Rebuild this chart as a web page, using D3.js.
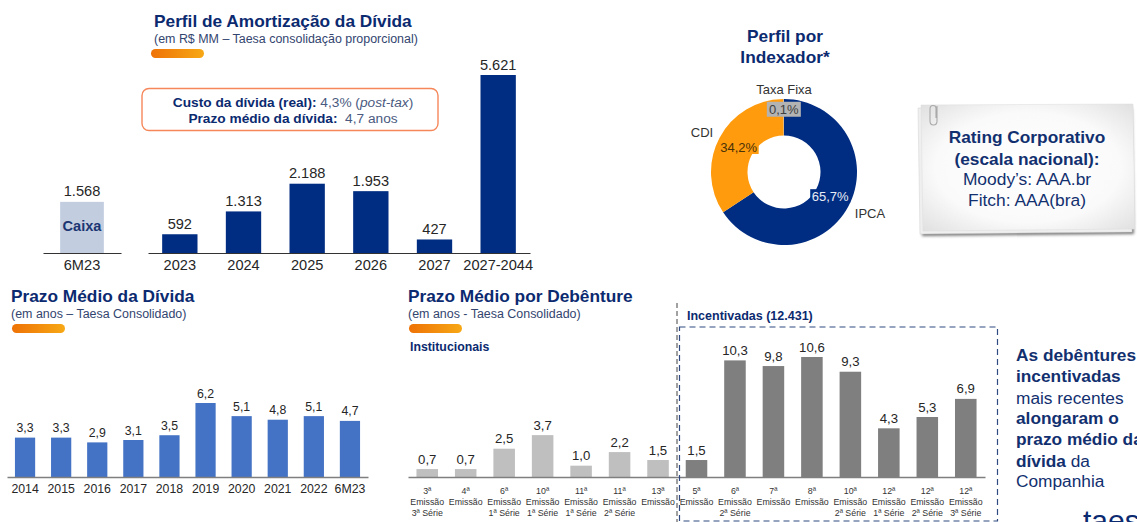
<!DOCTYPE html>
<html><head><meta charset="utf-8">
<script src="https://cdn.jsdelivr.net/npm/d3@7"></script>
<style>
html,body{margin:0;padding:0;background:#fff;overflow:hidden}
svg{display:block}
text{font-family:"Liberation Sans",Arial,sans-serif}
</style></head><body>
<div id="chart"></div>
<script>
const amortCats = ["2023","2024","2025","2026","2027","2027-2044"];
const amortVals = [592,1313,2188,1953,427,5621];
const amortLabels = ["592","1.313","2.188","1.953","427","5.621"];
const cashCats = ["6M23"];
const cashVals = [1568];
const cashLabels = ["1.568"];
const prazoCats = ["2014","2015","2016","2017","2018","2019","2020","2021","2022","6M23"];
const prazoVals = [3.3,3.3,2.9,3.1,3.5,6.2,5.1,4.8,5.1,4.7];
const debIds = ["3a-3s","4a","6a-1s","10a-1s","11a-1s","11a-2s","13a","5a","6a-2s","7a","8a","10a-2s","12a-1s","12a-2s","12a-3s"];
const debEmissao = ["3ª","4ª","6ª","10ª","11ª","11ª","13ª","5ª","6ª","7ª","8ª","10ª","12ª","12ª","12ª"];
const debSerie = ["3ª Série","","1ª Série","1ª Série","1ª Série","2ª Série","","","2ª Série","","","2ª Série","1ª Série","2ª Série","3ª Série"];
const debVals = [0.7,0.7,2.5,3.7,1.0,2.2,1.5,1.5,10.3,9.8,10.6,9.3,4.3,5.3,6.9];
const debIncentivadaCount = 8;
const indexNames = ["IPCA","CDI","Taxa Fixa"];
const indexVals = [65.7,34.2,0.1];
const indexColors = ["#002D82","#FF9B0D","#B3B3B3"];
const indexBoxes = ["#002D82","#FF9B0D","#B3B3B3"];
const indexText = ["#E8ECF5","#4A3208","#404040"];

const NAVY="#0B2A70", BLUE="#002D82", TXT="#262626";
const fmt = d => d.toFixed(1).replace(".",",");
const svg = d3.select("#chart").append("svg").attr("width",1137).attr("height",522);
const defs = svg.append("defs");
const g1 = defs.append("linearGradient").attr("id","pill");
g1.append("stop").attr("offset","0").attr("stop-color","#EE7206");
g1.append("stop").attr("offset","1").attr("stop-color","#F7A815");
const g2 = defs.append("radialGradient").attr("id","paper").attr("cx","0.5").attr("cy","0.5").attr("r","0.72");
g2.append("stop").attr("offset","0").attr("stop-color","#FFFFFF");
g2.append("stop").attr("offset","0.6").attr("stop-color","#FAFAFA");
g2.append("stop").attr("offset","1").attr("stop-color","#DEDEDE");
const blur = defs.append("filter").attr("id","shadow").attr("x","-5%").attr("y","-5%").attr("width","110%").attr("height","115%");
blur.append("feGaussianBlur").attr("stdDeviation","1.5");

function T(x,y,s,o={}){
  return svg.append("text").attr("x",x).attr("y",y).text(s)
    .attr("font-size",o.size||12).attr("font-weight",o.bold?"bold":"normal")
    .attr("fill",o.fill||NAVY).attr("text-anchor",o.anchor||"start");
}
function header(x,y,title,sub,size,pw){
  T(x,y,title,{bold:true,size:size});
  T(x,y+16,sub,{size:12.45,fill:"#33456F"});
  svg.append("rect").attr("x",x+(x===154?-3:1)).attr("y",y+22).attr("width",pw).attr("height",9).attr("rx",4.5).attr("fill","url(#pill)");
}
function bars(cats,vals,labels,xr,padding,yfn,base,color,size,axisColor,axisW,tickY,tickSize){
  const x = d3.scaleBand().domain(cats).range(xr).paddingInner(padding).paddingOuter(padding/2);
  const g = svg.append("g");
  g.selectAll("rect").data(cats).join("rect")
    .attr("x",d=>x(d)).attr("width",x.bandwidth())
    .attr("y",(d,i)=>yfn(vals[i])).attr("height",(d,i)=>base-yfn(vals[i]))
    .attr("fill",(d,i)=>typeof color==="function"?color(d,i):color);
  g.selectAll("text.v").data(cats).join("text").attr("class","v")
    .attr("x",d=>x(d)+x.bandwidth()/2).attr("y",(d,i)=>yfn(vals[i])-5.5)
    .attr("text-anchor","middle").attr("font-size",size).attr("fill",TXT)
    .text((d,i)=>labels[i]);
  const ax = svg.append("g").attr("transform",`translate(0,${base})`)
    .call(d3.axisBottom(x).tickSize(0).tickPadding(tickY).tickFormat(tickSize?null:()=>""));
  ax.select(".domain").attr("stroke",axisColor).attr("stroke-width",axisW);
  ax.selectAll("text").attr("font-size",tickSize||0).attr("fill",TXT).attr("font-family",'"Liberation Sans",Arial,sans-serif');
  return x;
}

// Perfil de Amortização
header(154,27,"Perfil de Amortização da Dívida","(em R$ MM – Taesa consolidação proporcional)",17.3,53);
const yA = d3.scaleLinear().domain([0,5621]).range([253,75]);
bars(amortCats,amortVals,amortLabels,[148,530],0.445,yA,253,BLUE,14.6,"#333",1,7,14.6);
const xC = bars(cashCats,cashVals,cashLabels,[43,121],0.44,v=>yA(v)-1.5,253,"#C2CDE0",14.6,"#333",1,7,14.6);
T(xC("6M23")+xC.bandwidth()/2,231,"Caixa",{bold:true,size:14.6,anchor:"middle",fill:"#1B3673"});
svg.append("rect").attr("x",142).attr("y",88.5).attr("width",296).attr("height",42).attr("rx",7)
  .attr("fill","#fff").attr("stroke","#F5875A").attr("stroke-width",1.4);
let t=T(293,106.5,"",{size:13.7,anchor:"middle",fill:"#4A5A80"});
t.append("tspan").attr("font-weight","bold").attr("fill",NAVY).text("Custo da dívida (real):");
t.append("tspan").text(" 4,3% (");
t.append("tspan").attr("font-style","italic").text("post-tax");
t.append("tspan").text(")");
t=T(293,123,"",{size:13.7,anchor:"middle",fill:"#4A5A80"});
t.append("tspan").attr("font-weight","bold").attr("fill",NAVY).text("Prazo médio da dívida:");
t.append("tspan").text("\u00A0\u00A04,7 anos");

// Donut
T(785,42,"Perfil por",{bold:true,size:17.3,anchor:"middle"});
T(785,63,"Indexador*",{bold:true,size:17.3,anchor:"middle"});
const pie = d3.pie().sort(null).value(d=>d)(indexVals);
const arc = d3.arc().innerRadius(36.5).outerRadius(73);
const gd = svg.append("g").attr("transform","translate(784,172)");
gd.selectAll("path").data(pie).join("path").attr("d",arc).attr("fill",(d,i)=>indexColors[i]);
const pctOff=[[-2,-2],[3,1],[0,-8]];
pie.forEach((p,i)=>{
  const c=arc.centroid(p), cx=c[0]+pctOff[i][0], cy=c[1]+pctOff[i][1];
  const w=i==2?34:40, h=i==2?15:13.5;
  gd.append("rect").attr("x",cx-w/2).attr("y",cy-h/2).attr("width",w).attr("height",h).attr("fill",indexBoxes[i]);
  gd.append("text").attr("x",cx).attr("y",cy+4.6).attr("text-anchor","middle").attr("font-size",13)
    .attr("fill",indexText[i]).text(fmt(indexVals[i])+"%");
});
const nameX=[870,702,784], nameY=[218,137,94];
indexNames.forEach((n,i)=>T(nameX[i],nameY[i],n,{size:13,anchor:"middle",fill:"#333"}));

// Note
svg.append("path").attr("d","M925,110 L1132,108 L1134,234 L922,236 Z").attr("fill","#777").attr("filter","url(#shadow)");
svg.append("path").attr("d","M918,108 L1130,106 L1132,232 L920,234 Z").attr("fill","#EFEFEF").attr("stroke","#D0D0D0").attr("stroke-width",.5);
svg.append("path").attr("d","M921,105 L1133,104 L1135,229 L923,231 Z").attr("fill","url(#paper)").attr("stroke","#DDD").attr("stroke-width",.5);
svg.append("path").attr("d","M937,106 L937,121 Q937,125 933.5,125 Q930,125 930,121 L930,109 Q930,105.5 933,105.5 Q936,105.5 936,108 L936,118")
  .attr("fill","none").attr("stroke","#A9A9A9").attr("stroke-width",1.1);
T(1027,143,"Rating Corporativo",{bold:true,size:17.3,anchor:"middle",fill:"#12306F"});
T(1027,164.5,"(escala nacional):",{bold:true,size:17.3,anchor:"middle",fill:"#12306F"});
T(1027,185,"Moody’s: AAA.br",{size:17.4,anchor:"middle",fill:"#12306F"});
T(1027,205.5,"Fitch: AAA(bra)",{size:17.4,anchor:"middle",fill:"#12306F"});

// Prazo médio da dívida
header(11,302,"Prazo Médio da Dívida","(em anos – Taesa Consolidado)",17.3,53);
const yP = d3.scaleLinear().domain([0,6.2]).range([477,403]);
bars(prazoCats,prazoVals,prazoVals.map(fmt),[7,368],0.44,yP,477,"#4472C4",12.3,"#7F7F7F",1.6,7,12.3);

// Prazo médio por debênture
header(408,302,"Prazo Médio por Debênture","(em anos - Taesa Consolidado)",17.3,53);
T(410,351,"Institucionais",{bold:true,size:12.3});
T(687,320,"Incentivadas (12.431)",{bold:true,size:12.5});
const yD = d3.scaleLinear().domain([0,10.6]).range([477,357]);
const xD = bars(debIds,debVals,debVals.map(fmt),[408,985],0.44,yD,477,(d,i)=>i>=debIds.length-debIncentivadaCount?"#7F7F7F":"#BFBFBF",13.2,"#7F7F7F",1.6,7,0);
const gl = svg.append("g").attr("text-anchor","middle").attr("font-size",8.8).attr("fill","#333");
debIds.forEach((id,i)=>{
  const cx=xD(id)+xD.bandwidth()/2;
  [debEmissao[i],"Emissão",debSerie[i]].forEach((s,k)=>{
    if(s) gl.append("text").attr("x",cx).attr("y",[493.5,505,515.5][k]).text(s);
  });
});
svg.append("line").attr("x1",677).attr("x2",677).attr("y1",303).attr("y2",522)
  .attr("stroke","#444").attr("stroke-width",1).attr("stroke-dasharray","5 3");
svg.append("rect").attr("x",679.5).attr("y",327).attr("width",318).attr("height",194)
  .attr("fill","none").attr("stroke","#2F4A80").attr("stroke-width",1.2).attr("stroke-dasharray","6 4");

// Side text
const side=[[["As debêntures",1]],[["incentivadas",1]],[["mais recentes",0]],[["alongaram o",1]],[["prazo médio da",1]],[["dívida",1],[" da",0]],[["Companhia",0]]];
const sideY=[361,382,403.5,424,445,466.5,487];
side.forEach((ln,i)=>{
  const tt=T(1016,sideY[i],"",{size:17.3,fill:"#12306F"});
  ln.forEach(([s,b])=>tt.append("tspan").attr("font-weight",b?"bold":"normal").text(s));
});
T(1083,531,"taesa",{size:30,fill:"#0B2A70"});
</script>
</body></html>
